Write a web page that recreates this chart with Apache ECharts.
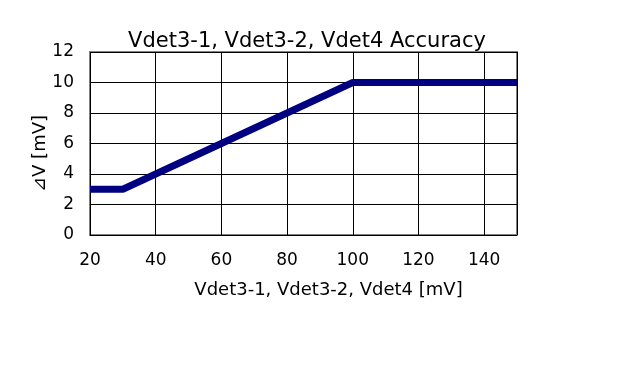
<!DOCTYPE html>
<html><head><meta charset="utf-8">
<script src="https://cdn.jsdelivr.net/npm/echarts@6/dist/echarts.min.js"></script>
<style>html,body{margin:0;padding:0;background:#fff}#c{width:640px;height:379px}</style>
</head><body><div id="c"></div>
<script>
const titleText = 'Vdet3-1, Vdet3-2, Vdet4 Accuracy';
const xName = 'Vdet3-1, Vdet3-2, Vdet4 [mV]';
const yName = '⊿V [mV]';
const xVals = [20, 30, 100, 150];
const yVals = [3, 3, 10, 10];
const font = 'DejaVu Sans';
const chart = echarts.init(document.getElementById('c'));
chart.setOption({
  animation: false,
  title: {text: titleText, left: 302, textAlign: 'center', top: 26,
    textStyle: {fontFamily: font, fontSize: 21, fontWeight: 'normal', color: '#000'}},
  grid: {left: 90, right: 123, top: 52, bottom: 144, show: true, borderColor: '#808080', borderWidth: 2},
  xAxis: {type: 'value', min: 20, max: 150, interval: 20,
    name: xName, nameLocation: 'middle', nameGap: 46, nameMoveOverlap: false,
    nameTextStyle: {fontFamily: font, fontSize: 18, color: '#000', padding: [0,0,0,50]},
    axisLine: {show: false}, axisTick: {show: false},
    axisLabel: {fontFamily: font, fontSize: 17, color: '#000', margin: 17, showMaxLabel: false},
    splitLine: {lineStyle: {color: '#000', width: 1}}},
  yAxis: {type: 'value', min: 0, max: 12, interval: 2,
    name: yName, nameLocation: 'middle', nameGap: 41, nameRotate: 90, nameMoveOverlap: false,
    nameTextStyle: {fontFamily: font, fontSize: 18, color: '#000', padding: [0,20,0,0]},
    axisLine: {show: false}, axisTick: {show: false},
    axisLabel: {fontFamily: font, fontSize: 17, color: '#000', margin: 16},
    splitLine: {lineStyle: {color: '#000', width: 1}}},
  series: [{type: 'line', data: xVals.map((x, i) => [x, yVals[i]]), symbol: 'none',
    lineStyle: {color: '#000080', width: 7}}]
});
</script></body></html>
